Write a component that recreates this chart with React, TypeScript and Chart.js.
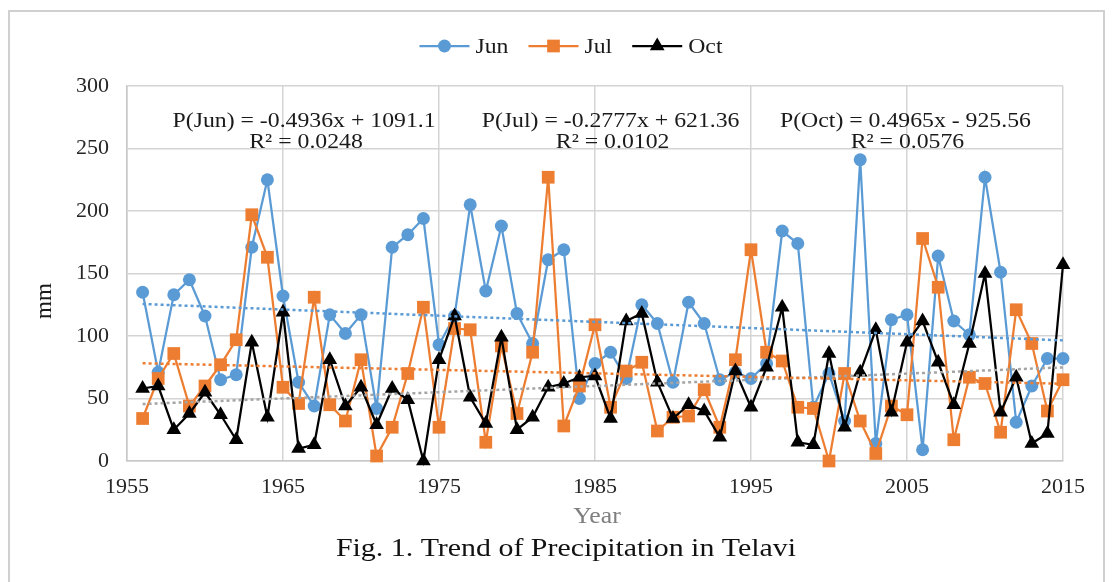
import React, { useEffect, useRef } from "react";
import { Chart, registerables } from "chart.js";

Chart.register(...registerables);

// ---------- data ----------
const years = [
  1956, 1957, 1958, 1959, 1960, 1961, 1962, 1963, 1964, 1965,
  1966, 1967, 1968, 1969, 1970, 1971, 1972, 1973, 1974, 1975,
  1976, 1977, 1978, 1979, 1980, 1981, 1982, 1983, 1984, 1985,
  1986, 1987, 1988, 1989, 1990, 1991, 1992, 1993, 1994, 1995,
  1996, 1997, 1998, 1999, 2000, 2001, 2002, 2003, 2004, 2005,
  2006, 2007, 2008, 2009, 2010, 2011, 2012, 2013, 2014, 2015,
];

const junValues = [
  135, 71, 133, 145, 116, 65, 69, 171, 225, 132,
  63, 44, 117, 102, 117, 42, 171, 181, 194, 93,
  116, 205, 136, 188, 118, 94, 161, 169, 50, 78,
  87, 66, 125, 110, 63, 127, 110, 65, 71, 66,
  78, 184, 174, 43, 70, 32, 241, 14, 113, 117,
  9, 164, 112, 101, 227, 151, 31, 60, 82, 82,
];

const julValues = [
  34, 66, 86, 44, 60, 77, 97, 197, 163, 59,
  46, 131, 45, 32, 81, 4, 27, 70, 123, 27,
  106, 105, 15, 92, 38, 87, 227, 28, 60, 109,
  43, 72, 79, 24, 35, 36, 57, 27, 81, 169,
  87, 80, 43, 42, 0, 70, 32, 6, 44, 37,
  178, 139, 17, 67, 62, 23, 121, 94, 40, 65,
];

const octValues = [
  58, 60, 25, 38, 55, 37, 17, 95, 35, 119,
  10, 13, 81, 44, 59, 29, 58, 49, 0, 81,
  116, 51, 30, 99, 25, 35, 59, 62, 67, 68,
  34, 112, 118, 63, 34, 45, 40, 19, 72, 43,
  75, 123, 15, 13, 86, 27, 71, 105, 39, 95,
  112, 79, 45, 94, 150, 39, 67, 14, 22, 157,
];

const seriesNames = ["Jun", "Jul", "Oct"];
const trendSlopes = [-0.4936, -0.2777, 0.4965];
const trendIntercepts = [1091.1, 621.36, -925.56];
const trendR2 = ["0.0248", "0.0102", "0.0576"];

const xTickLabels = ["1955", "1965", "1975", "1985", "1995", "2005", "2015"];
const yTickLabels = ["0", "50", "100", "150", "200", "250", "300"];

const xTitle = "Year";
const yTitle = "mm";
const caption = "Fig. 1. Trend of Precipitation in Telavi";

// ---------- styles ----------
const SERIF = "'Liberation Serif', 'Times New Roman', serif";
const seriesColors = ["#5B9BD5", "#ED7D31", "#000000"];
const trendColors = ["#5B9BD5", "#ED7D31", "#A5A5A5"];
const pointStyles = ["circle", "rect", "triangle"];
const pointRadii = [6.5, 9, 8.5];

function drawText(
  ctx: CanvasRenderingContext2D,
  text: string,
  x: number,
  y: number,
  hs: number,
  align: CanvasTextAlign,
  rotate = 0
) {
  ctx.save();
  ctx.translate(x, y);
  if (rotate) ctx.rotate(rotate);
  ctx.scale(hs, 1);
  ctx.textAlign = align;
  ctx.textBaseline = "middle";
  ctx.fillText(text, 0, 0);
  ctx.restore();
}

function drawMarker(ctx: CanvasRenderingContext2D, style: string, x: number, y: number, r: number, color: string) {
  ctx.save();
  ctx.fillStyle = color;
  ctx.beginPath();
  if (style === "circle") {
    ctx.arc(x, y, r, 0, Math.PI * 2);
  } else if (style === "rect") {
    const s = r * Math.SQRT1_2;
    ctx.rect(x - s, y - s, 2 * s, 2 * s);
  } else {
    let rad = 0;
    ctx.moveTo(x + Math.sin(rad) * r, y - Math.cos(rad) * r);
    rad += (2 * Math.PI) / 3;
    ctx.lineTo(x + Math.sin(rad) * r, y - Math.cos(rad) * r);
    rad += (2 * Math.PI) / 3;
    ctx.lineTo(x + Math.sin(rad) * r, y - Math.cos(rad) * r);
    ctx.closePath();
  }
  ctx.fill();
  ctx.restore();
}

const framePlugin = {
  id: "frame",
  beforeDraw(chart: any) {
    const { ctx, width, height } = chart;
    ctx.save();
    ctx.fillStyle = "#ffffff";
    ctx.fillRect(0, 0, width, height);
    ctx.strokeStyle = "#d0d0d0";
    ctx.lineWidth = 2;
    ctx.beginPath();
    ctx.moveTo(9, height + 5);
    ctx.lineTo(9, 11);
    ctx.lineTo(1104, 11);
    ctx.lineTo(1104, height + 5);
    ctx.stroke();
    ctx.restore();
  },
};

const textPlugin = {
  id: "texts",
  afterDraw(chart: any) {
    const { ctx, chartArea } = chart;
    ctx.save();

    // legend
    ctx.font = `22px ${SERIF}`;
    const hsLegend = 1.08;
    const lineLen = 50;
    const gapAfterLine = 6;
    const gapBetween = 20;
    const widths = seriesNames.map((n) => lineLen + gapAfterLine + ctx.measureText(n).width * hsLegend);
    const total = widths.reduce((a, b) => a + b, 0) + gapBetween * (seriesNames.length - 1);
    let x = 571 - total / 2;
    const y = 46;
    seriesNames.forEach((name, i) => {
      ctx.strokeStyle = seriesColors[i];
      ctx.lineWidth = 2.25;
      ctx.beginPath();
      ctx.moveTo(x, y);
      ctx.lineTo(x + lineLen, y);
      ctx.stroke();
      drawMarker(ctx, pointStyles[i], x + lineLen / 2, y, pointRadii[i], seriesColors[i]);
      ctx.fillStyle = "#1a1a1a";
      drawText(ctx, name, x + lineLen + gapAfterLine, y + 1, hsLegend, "left");
      x += widths[i] + gapBetween;
    });

    // axis titles
    ctx.font = `23px ${SERIF}`;
    ctx.fillStyle = "#7f7f7f";
    drawText(ctx, xTitle, (chartArea.left + chartArea.right) / 2 + 2, 517, 1.12, "center");
    ctx.fillStyle = "#1a1a1a";
    drawText(ctx, yTitle, 45, 301, 1.0, "center", -Math.PI / 2);

    // caption
    ctx.font = `26px ${SERIF}`;
    ctx.fillStyle = "#111111";
    drawText(ctx, caption, 566, 549, 1.15, "center");

    ctx.restore();
  },
};

const equationAnchors = [
  { x: 1966.35, y: 272 },
  { x: 1986.0, y: 272 },
  { x: 2004.9, y: 272 },
];

const equationPlugin = {
  id: "equations",
  afterDatasetsDraw(chart: any) {
    const { ctx, scales } = chart;
    ctx.save();
    ctx.font = `22px ${SERIF}`;
    ctx.fillStyle = "#1a1a1a";
    seriesNames.forEach((name, i) => {
      const px = scales.x.getPixelForValue(equationAnchors[i].x);
      const py = scales.y.getPixelForValue(equationAnchors[i].y);
      const b = trendIntercepts[i];
      const line1 = `P(${name}) = ${trendSlopes[i]}x ${b < 0 ? "-" : "+"} ${Math.abs(b)}`;
      const line2 = `R² = ${trendR2[i]}`;
      drawText(ctx, line1, px, py, 1.08, "center");
      drawText(ctx, line2, px + 2, py + 21, 1.08, "center");
    });
    ctx.restore();
  },
};

export default function App() {
  const canvasRef = useRef<HTMLCanvasElement | null>(null);

  useEffect(() => {
    const canvas = canvasRef.current;
    if (!canvas) return;

    const valueSets = [junValues, julValues, octValues];
    const mainSets = seriesNames.map((name, i) => ({
      label: name,
      data: years.map((yr, k) => ({ x: yr, y: valueSets[i][k] })),
      borderColor: seriesColors[i],
      backgroundColor: seriesColors[i],
      pointBackgroundColor: seriesColors[i],
      pointBorderColor: seriesColors[i],
      pointStyle: pointStyles[i],
      pointRadius: pointRadii[i],
      pointBorderWidth: 0,
      borderWidth: 2.25,
      showLine: true,
      tension: 0,
      clip: false,
      order: 3 - i,
    }));
    const firstYear = years[0];
    const lastYear = years[years.length - 1];
    const trendSets = seriesNames.map((name, i) => ({
      label: `trend ${name}`,
      data: [firstYear, lastYear].map((yr) => ({ x: yr, y: trendSlopes[i] * yr + trendIntercepts[i] })),
      borderColor: trendColors[i],
      backgroundColor: trendColors[i],
      borderWidth: 2.5,
      borderDash: [3, 3],
      pointRadius: 0,
      showLine: true,
      clip: false,
      order: 0,
    }));

    const chart = new Chart(canvas, {
      type: "scatter",
      data: { datasets: [...mainSets, ...trendSets] as any },
      plugins: [framePlugin, equationPlugin, textPlugin],
      options: {
        responsive: false,
        animation: false,
        layout: { padding: { top: 86, right: 53, left: 0, bottom: 50 } },
        plugins: {
          legend: { display: false },
          tooltip: { enabled: false },
          title: { display: false },
        },
        scales: {
          x: {
            type: "linear",
            min: 1955,
            max: 2015,
            ticks: {
              stepSize: 10,
              padding: 13,
              color: "#262626",
              font: { family: SERIF, size: 22 },
              maxRotation: 0,
              callback: (v: any) => {
                const idx = xTickLabels.indexOf(String(v));
                return idx >= 0 ? xTickLabels[idx] : "";
              },
            },
            grid: { color: "#d4d4d4", lineWidth: 1.5, drawTicks: false },
            border: { color: "#c8c8c8", width: 1.5 },
            title: { display: false },
            afterFit: (scale: any) => {
              scale.height = 71;
            },
          },
          y: {
            type: "linear",
            min: 0,
            max: 300,
            ticks: {
              stepSize: 50,
              padding: 18,
              color: "#262626",
              font: { family: SERIF, size: 22 },
              callback: (v: any) => {
                const idx = yTickLabels.indexOf(String(v));
                return idx >= 0 ? yTickLabels[idx] : "";
              },
            },
            grid: { color: "#d4d4d4", lineWidth: 1.5, drawTicks: false },
            border: { color: "#c8c8c8", width: 1.5 },
            title: { display: false },
            afterFit: (scale: any) => {
              scale.width = 127;
            },
          },
        },
      } as any,
    });

    return () => {
      chart.destroy();
    };
  }, []);

  return (
    <div style={{ position: "fixed", left: 0, top: 0, width: 1116, height: 582, background: "#ffffff" }}>
      <canvas ref={canvasRef} width={1116} height={582} style={{ display: "block", width: 1116, height: 582 }} />
    </div>
  );
}
